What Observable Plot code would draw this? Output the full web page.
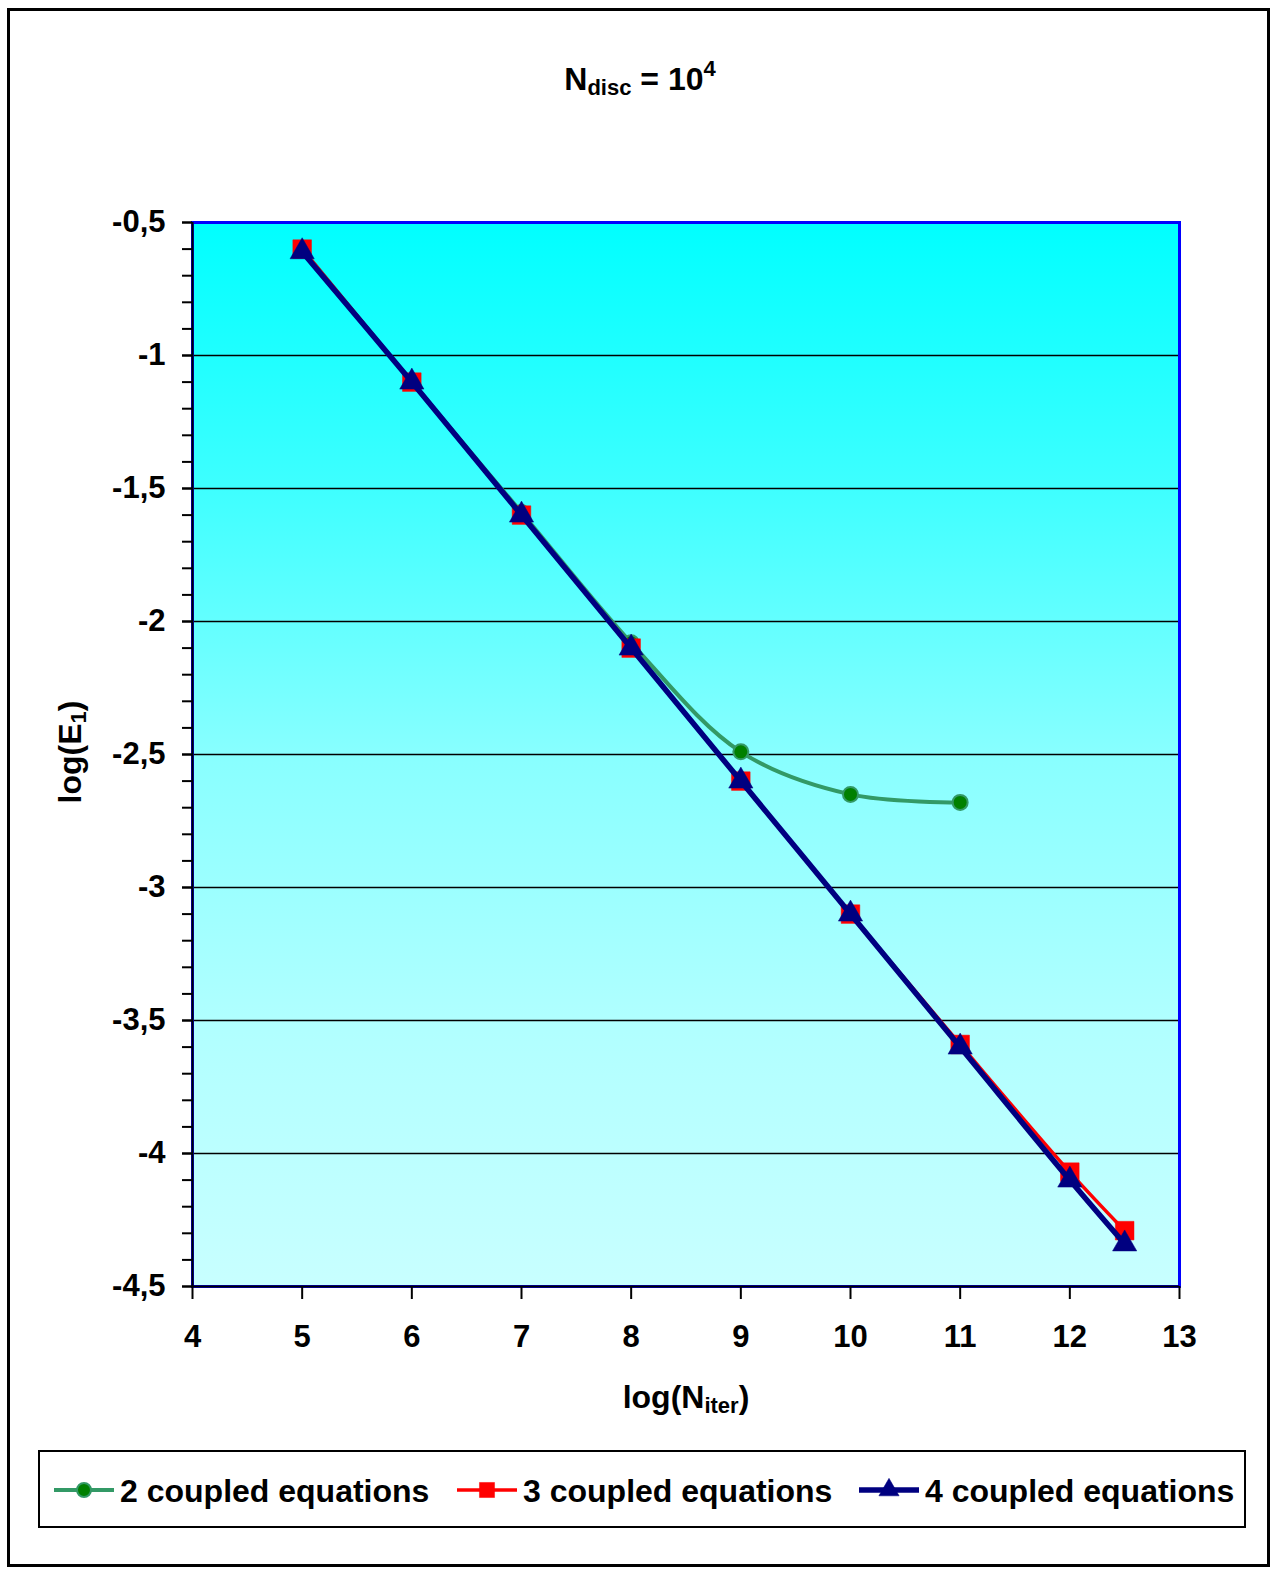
<!DOCTYPE html>
<html>
<head>
<meta charset="utf-8">
<script src="https://cdn.jsdelivr.net/npm/d3@7"></script>
<script src="https://cdn.jsdelivr.net/npm/@observablehq/plot@0.6"></script>
<style>
  html, body { margin: 0; padding: 0; background: #fff; }
  #page { position: relative; width: 1272px; height: 1571px; overflow: hidden;
          font-family: "Liberation Sans", Arial, sans-serif; font-weight: bold; color: #000; }
  #outer { position: absolute; left: 7px; top: 8px; width: 1257px; height: 1553px; border: 3px solid #000; }
  #chart { position: absolute; left: 0; top: 0; }
  .lbl { position: absolute; font-size: 32px; font-weight: bold; white-space: nowrap; line-height: 1; }
  .lbl sub { font-size: 22px; vertical-align: -5px; }
  .lbl sup { font-size: 22px; vertical-align: 14px; }
  #legend { position: absolute; left: 38px; top: 1450px; width: 1204px; height: 74px; border: 2px solid #000; background: #fff; }
</style>
</head>
<body>
<div id="page">
  <div id="outer"></div>
  <div id="chart"></div>
  <div class="lbl" id="title" style="left:0; width:1280px; text-align:center; top:58px;">N<sub>disc</sub> = 10<sup>4</sup></div>
  <div class="lbl" id="xlabel" style="left:0; width:1372px; text-align:center; top:1381px;">log(N<sub>iter</sub>)</div>
  <div class="lbl" id="ylabel" style="left:72px; top:752px; transform: translate(-50%,-50%) rotate(-90deg); transform-origin: center;">log(E<sub>1</sub>)</div>
  <div id="legend"></div>
</div>
<script>
// ---- data ----
const xTicks = [4, 5, 6, 7, 8, 9, 10, 11, 12, 13];
const yTicks = [-0.5, -1, -1.5, -2, -2.5, -3, -3.5, -4, -4.5];

const x2 = [5, 6, 7, 8, 9, 10, 11];
const y2 = [-0.6, -1.1, -1.59, -2.08, -2.49, -2.65, -2.68];

const x3 = [5, 6, 7, 8, 9, 10, 11, 12, 12.5];
const y3 = [-0.6, -1.1, -1.6, -2.1, -2.6, -3.1, -3.59, -4.07, -4.29];

const x4 = [5, 6, 7, 8, 9, 10, 11, 12, 12.5];
const y4 = [-0.61, -1.1, -1.6, -2.1, -2.6, -3.1, -3.6, -4.1, -4.34];

const seriesNames = ["2 coupled equations", "3 coupled equations", "4 coupled equations"];

// ---- build ----
const toRows = (xs, ys) => xs.map((x, i) => ({x, y: ys[i]}));
const d2 = toRows(x2, y2), d3r = toRows(x3, y3), d4 = toRows(x4, y4);

const minorTicks = d3.range(0, 41).map(i => +(-4.5 + i * 0.1).toFixed(2));
const gridVals = yTicks.filter(v => v > -4.5 && v < -0.5);
const fmt = d => String(d).replace(".", ",");

const plot = Plot.plot({
  width: 1272,
  height: 1440,
  marginLeft: 192,
  marginRight: 93,
  marginTop: 222,
  marginBottom: 154,
  style: { fontFamily: "'Liberation Sans', Arial, sans-serif", background: "transparent", color: "#000", overflow: "visible" },
  x: { domain: [4, 13] },
  y: { domain: [-4.5, -0.5] },
  marks: [
    Plot.frame({ fill: "url(#bgGrad)" }),
    Plot.ruleY(gridVals, { stroke: "#000", strokeWidth: 1.6 }),
    Plot.frame({ stroke: "#0000ff", strokeWidth: 3 }),
    Plot.ruleX([4], { stroke: "#000", strokeWidth: 2 }),
    Plot.ruleY([-4.5], { stroke: "#000", strokeWidth: 2 }),
    Plot.axisY({ ticks: minorTicks, tickSize: 10, tickFormat: () => "", label: null, strokeWidth: 2 }),
    Plot.axisY({ ticks: yTicks, tickSize: 10, tickPadding: 17, tickFormat: fmt, label: null,
                 fontSize: 31, fontWeight: "bold", strokeWidth: 2 }),
    Plot.axisX({ ticks: xTicks, tickSize: 13, tickPadding: 25, tickFormat: d => String(d), label: null,
                 fontSize: 31, fontWeight: "bold", strokeWidth: 2 }),
    // 2 coupled
    Plot.line(d2, { x: "x", y: "y", stroke: "#339966", strokeWidth: 4, curve: "catmull-rom" }),
    Plot.dot(d2, { x: "x", y: "y", symbol: "circle", r: 7.5, fill: "#008000", stroke: "#339966", strokeWidth: 2 }),
    // 3 coupled
    Plot.line(d3r, { x: "x", y: "y", stroke: "#ff0000", strokeWidth: 3.5, curve: "catmull-rom" }),
    Plot.dot(d3r, { x: "x", y: "y", symbol: "square", r: 10.5, fill: "#ff0000", stroke: "#ff0000", strokeWidth: 0.5 }),
    // 4 coupled
    Plot.line(d4, { x: "x", y: "y", stroke: "#000080", strokeWidth: 5.5, curve: "catmull-rom" }),
    Plot.dot(d4, { x: "x", y: "y", symbol: "triangle", r: 9, fill: "#000080", stroke: "#000080", strokeWidth: 0.5 })
  ]
});

// gradient definition
const svg = d3.select(plot);
const defs = svg.insert("defs", ":first-child");
const grad = defs.append("linearGradient").attr("id", "bgGrad")
  .attr("x1", 0).attr("y1", 0).attr("x2", 0).attr("y2", 1);
[[0, "#00ffff"], [0.25, "#3effff"], [0.5, "#88ffff"], [0.75, "#b0ffff"], [1, "#c8ffff"]]
  .forEach(([o, c]) => grad.append("stop").attr("offset", o).attr("stop-color", c));

document.getElementById("chart").appendChild(plot);

// ---- legend ----
const legendItems = [
  { name: seriesNames[0], color: "#339966", sym: "circle", fill: "#008000", lw: 4, r: 7, left: 14 },
  { name: seriesNames[1], color: "#ff0000", sym: "square", fill: "#ff0000", lw: 3.5, r: 8.5, left: 417 },
  { name: seriesNames[2], color: "#000080", sym: "triangle", fill: "#000080", lw: 5.5, r: 7.5, left: 819 }
];
const leg = d3.select("#legend");
const symMap = { circle: d3.symbolCircle, square: d3.symbolSquare, triangle: d3.symbolTriangle };
legendItems.forEach(it => {
  const s = leg.append("svg").attr("width", 62).attr("height", 30)
    .style("position", "absolute").style("left", it.left + "px").style("top", "23px");
  s.append("line").attr("x1", 0).attr("x2", 60).attr("y1", 15).attr("y2", 15)
    .attr("stroke", it.color).attr("stroke-width", it.lw);
  s.append("path").attr("transform", "translate(30,15)")
    .attr("d", d3.symbol(symMap[it.sym], Math.PI * it.r * it.r)())
    .attr("fill", it.fill).attr("stroke", it.color).attr("stroke-width", it.sym === "circle" ? 2 : 0.5);
  leg.append("div").attr("class", "lbl").style("left", (it.left + 66) + "px").style("top", "23px")
    .text(it.name);
});
</script>
</body>
</html>
